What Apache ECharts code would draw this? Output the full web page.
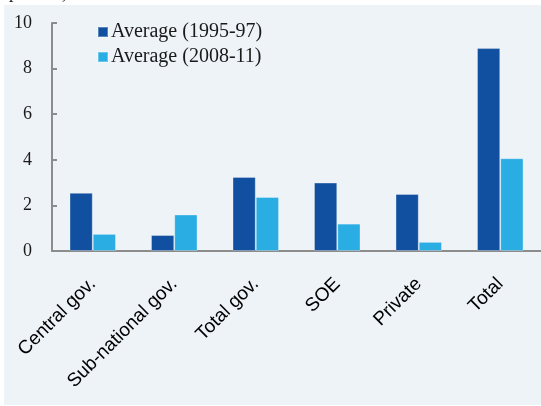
<!DOCTYPE html>
<html>
<head>
<meta charset="utf-8">
<script src="https://cdn.jsdelivr.net/npm/echarts@6/dist/echarts.min.js"></script>
<style>
html,body{margin:0;padding:0;background:#ffffff;}
#chart{width:541px;height:406px;}
</style>
</head>
<body>
<div id="chart"></div>
<script>
var categories = ['Central gov.', 'Sub-national gov.', 'Total gov.', 'SOE', 'Private', 'Total'];
var seriesNames = ['Average (1995-97)', 'Average (2008-11)'];
var avg9597 = [2.55, 0.7, 3.25, 3.0, 2.5, 8.9];
var avg0811 = [0.75, 1.6, 2.37, 1.2, 0.4, 4.07];
var yTicks = [0, 2, 4, 6, 8, 10];

var chart = echarts.init(document.getElementById('chart'), null, {renderer: 'canvas'});
var serif = '"Liberation Serif", "Times New Roman", serif';
var sans = '"Liberation Sans", Arial, sans-serif';
var axisColor = '#8c8c8c';

chart.setOption({
  animation: false,
  backgroundColor: '#ffffff',
  graphic: [
    {type: 'rect', z: -10, shape: {x: 4, y: 5, width: 540, height: 400}, style: {fill: '#eef3f8'}},
    {type: 'text', z: 10, x: 9, y: 2, style: {text: 'percent)', font: '18px ' + serif, fill: '#1a1a1a', verticalAlign: 'bottom'}}
  ],
  grid: {left: 52, top: 23, width: 492, height: 228},
  legend: {
    orient: 'vertical',
    left: 97,
    top: 22,
    padding: 0,
    itemWidth: 10,
    itemHeight: 10,
    itemGap: 5,
    icon: 'rect',
    textStyle: {fontFamily: serif, fontSize: 20, color: '#1a1a1a', padding: [0, 0, 0, -2]},
    data: seriesNames
  },
  xAxis: {
    type: 'category',
    data: categories,
    axisLine: {lineStyle: {color: axisColor, width: 2}},
    axisTick: {inside: true, length: 5, lineStyle: {color: axisColor, width: 2}},
    axisLabel: {rotate: 45, margin: 30, fontFamily: sans, fontSize: 19, color: '#000000', interval: 0}
  },
  yAxis: {
    type: 'value',
    min: yTicks[0],
    max: yTicks[yTicks.length - 1],
    interval: yTicks[1] - yTicks[0],
    splitLine: {show: false},
    axisLine: {show: true, lineStyle: {color: axisColor, width: 2}},
    axisTick: {show: true, inside: true, length: 5, lineStyle: {color: axisColor, width: 2}},
    axisLabel: {margin: 20, fontFamily: serif, fontSize: 18, color: '#1a1a1a'}
  },
  series: [
    {
      name: seriesNames[0], type: 'bar', data: avg9597,
      barGap: '0%', barCategoryGap: '43%',
      itemStyle: {color: '#1150a0', borderColor: 'rgba(255,255,255,0.3)', borderWidth: 1}
    },
    {
      name: seriesNames[1], type: 'bar', data: avg0811,
      itemStyle: {color: '#2aade3', borderColor: 'rgba(255,255,255,0.3)', borderWidth: 1}
    }
  ]
});
</script>
</body>
</html>
